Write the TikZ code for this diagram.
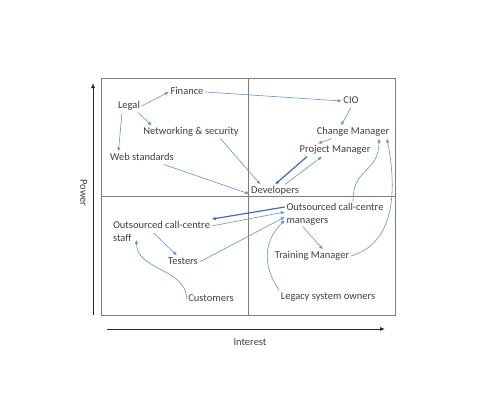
\documentclass[tikz,border=0pt]{standalone}
\usepackage{fontspec}
\setmainfont{Carlito}
\usetikzlibrary{arrows.meta}
\definecolor{linkblue}{RGB}{98,148,206}
\definecolor{darklink}{RGB}{60,110,180}
\definecolor{textgray}{RGB}{64,64,64}
\definecolor{boxgray}{RGB}{125,125,125}
\tikzset{
    lbl/.style={font=\fontsize{10.5}{13}\selectfont, text=textgray, inner sep=1.5pt},
    txt/.style={lbl, text height=7.5pt, text depth=2.2pt},
    twoline/.style={lbl, align=left},
    conn/.style={draw=linkblue, line width=0.6pt, -{Latex[length=4pt,width=3.5pt]}},
    thickconn/.style={conn, draw=darklink, line width=1.2pt},
    quad/.style={draw=boxgray, line width=0.9pt},
    axis/.style={draw=black!85, line width=0.8pt, -{Latex[length=5pt,width=4pt]}}
}
\begin{document}
\begin{tikzpicture}[x=1pt,y=-1pt]

        \useasboundingbox (0,0) rectangle (480,416);

        \draw[quad] (101,78) rectangle (395,315);
        \draw[quad] (248,78) -- (248,315);
        \draw[quad] (101,196) -- (395,196);
        \draw[axis] (93,315) -- (93,83);
        \draw[axis] (107,329) -- (385,329);
        \node[txt, rotate=-90] (power) at (83,193) {Power};
        \node[txt] (interest) at (250,343) {Interest};

        \node[txt] (finance) at (187,92) {Finance};
        \node[txt] (legal) at (129,106) {Legal};
        \node[txt] (netsec) at (191,132) {Networking \& security};
        \node[txt] (webstd) at (142,158) {Web standards};
        \node[txt] (cio) at (351,101) {CIO};
        \node[txt] (changemgr) at (353,132) {Change Manager};
        \node[txt] (projmgr) at (335,150) {Project Manager};
        \node[txt] (devs) at (275,191) {Developers};
        \node[twoline] (ocstaff) at (161.5,231) {Outsourced call-centre\\staff};
        \node[txt] (testers) at (183,262) {Testers};
        \node[txt] (customers) at (211,299) {Customers};
        \node[twoline] (ocmgrs) at (335,214) {Outsourced call-centre\\managers};
        \node[txt] (trainmgr) at (312,256) {Training Manager};
        \node[txt] (legacy) at (328,297) {Legacy system owners};

        \draw[conn] (legal.east) -- (finance.west);
        \draw[conn] ([xshift=9pt]legal.south) -- ([xshift=10pt]netsec.north west);
        \draw[conn] ([xshift=-7pt]legal.south) -- ([xshift=10pt]webstd.north west);
        \draw[conn] (finance.east) -- (cio.west);
        \draw[conn] ([xshift=-20pt]netsec.south east) -- ([xshift=11pt]devs.north west);
        \draw[conn] ([xshift=22pt]webstd.south) -- ([yshift=-3pt]devs.west);
        \draw[conn] (cio.south) -- ([xshift=-12pt]changemgr.north);
        \draw[conn] ([xshift=-21pt]changemgr.south) -- ([xshift=-17pt]projmgr.north);
        \draw[thickconn] ([xshift=-28pt]projmgr.south) -- (devs.north);
        \draw[conn] ([xshift=10pt]devs.north) -- ([xshift=-13pt]projmgr.south);
        \draw[conn] ([xshift=18pt]ocmgrs.north) to[out=90, in=-90, looseness=1.3] ([xshift=26pt]changemgr.south);
        \draw[conn] (trainmgr.east) to[out=16, in=-79] ([xshift=34pt]changemgr.south);
        \draw[thickconn] ([yshift=7pt]ocmgrs.west) -- (ocstaff.north east);
        \draw[conn] ([yshift=5pt]ocstaff.east) -- ([yshift=2pt]ocmgrs.west);
        \draw[conn] (testers.east) -- ([yshift=-3pt]ocmgrs.west);
        \draw[conn] (legacy.north west) to[out=124, in=225, looseness=1.1] ([yshift=-6pt]ocmgrs.west);
        \draw[conn] ([xshift=-8pt, yshift=10pt]ocstaff.south) -- ([xshift=-6pt]testers.north);
        \draw[conn] (customers.west) to[out=90, in=-90] ([xshift=-25pt, yshift=3pt]ocstaff.south);
        \draw[conn] ([xshift=-32pt]ocmgrs.south) -- ([xshift=11pt]trainmgr.north);

\end{tikzpicture}
\end{document}
